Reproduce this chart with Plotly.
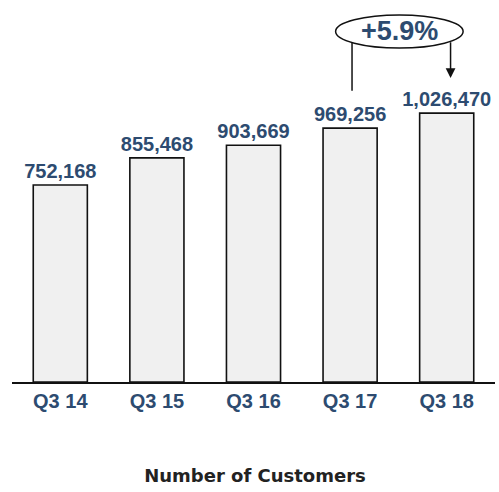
import plotly.graph_objects as go

categories = ["Q3 14", "Q3 15", "Q3 16", "Q3 17", "Q3 18"]
customers = [752168, 855468, 903669, 969256, 1026470]
value_labels = ["752,168", "855,468", "903,669", "969,256", "1,026,470"]
growth_label = "+5.9%"
chart_title = "Number of Customers"

BLUE = "#2d4b70"
Y_MAX = 1420000

fig = go.Figure()
fig.add_trace(go.Bar(
    x=categories,
    y=customers,
    text=value_labels,
    textposition="outside",
    constraintext="none",
    textfont=dict(family="Liberation Sans, Arial", size=20, color=BLUE, weight="bold"),
    marker=dict(color="#f0f0f0", line=dict(color="#111111", width=1.6)),
    cliponaxis=False,
    hoverinfo="skip",
))

# growth annotation: ellipse, connector line and arrow (positions relative to categories)
fig.add_shape(type="circle", xref="x", yref="y",
              x0=2.85, x1=4.17, y0=1275000, y1=1401000,
              line=dict(color="#111111", width=1.5), fillcolor="rgba(0,0,0,0)")
fig.add_shape(type="line", xref="x", yref="y",
              x0=3.02, x1=3.02, y0=1112000, y1=1298000,
              line=dict(color="#111111", width=1.5))
fig.add_annotation(x=4.04, y=1160000, ax=4.04, ay=1303000,
                   xref="x", yref="y", axref="x", ayref="y",
                   text="", showarrow=True, arrowhead=2, arrowsize=1.3,
                   arrowwidth=1.5, arrowcolor="#111111")
fig.add_annotation(x=3.51, y=1338000, xref="x", yref="y", text=growth_label,
                   showarrow=False,
                   font=dict(family="Liberation Sans, Arial", size=27, color=BLUE, weight="bold"))

fig.update_layout(
    width=499, height=492,
    margin=dict(l=12, r=4, t=10, b=110),
    paper_bgcolor="white", plot_bgcolor="white",
    bargap=0.44,
    showlegend=False,
    title=dict(text=chart_title, x=0.511, xanchor="center", y=0.033, yanchor="middle",
               yref="container",
               font=dict(family="DejaVu Sans", size=18, color="#222222", weight="bold")),
    xaxis=dict(showline=True, linecolor="#111111", linewidth=2,
               ticks="",
               tickfont=dict(family="Liberation Sans, Arial", size=20, color=BLUE, weight="bold"),
               showgrid=False, zeroline=False, fixedrange=True),
    yaxis=dict(range=[0, Y_MAX], visible=False, showgrid=False, zeroline=False),
)

fig.write_html("out.html")
